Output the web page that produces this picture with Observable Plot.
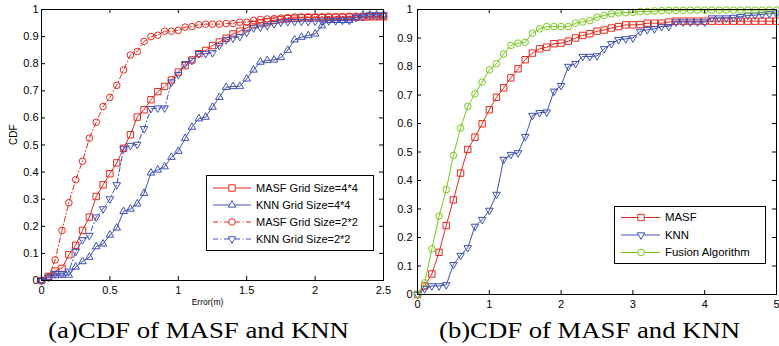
<!DOCTYPE html>
<html><head><meta charset="utf-8">
<script src="https://cdn.jsdelivr.net/npm/d3@7"></script>
<script src="https://cdn.jsdelivr.net/npm/@observablehq/plot@0.6"></script>
<style>
html,body{margin:0;padding:0;background:#fff;}
#root{position:relative;width:779px;height:346px;overflow:hidden;background:#fff;}
#root svg{position:absolute;top:0;}
</style></head><body><div id="root"></div>
<script>
// ---------- DATA ----------
// Panel (a): error (m)
const xA = [0,0.05,0.1,0.15,0.2,0.25,0.3,0.35,0.4,0.45,0.5,0.55,0.6,0.65,0.7,0.75,0.8,0.85,0.9,0.95,
  1,1.05,1.1,1.15,1.2,1.25,1.3,1.35,1.4,1.45,1.5,1.55,1.6,1.65,1.7,1.75,1.8,1.85,1.9,1.95,
  2,2.05,2.1,2.15,2.2,2.25,2.3,2.35,2.4,2.45,2.5];
const masf44 = [0,0.015,0.035,0.045,0.095,0.13,0.185,0.234,0.31,0.353,
  0.394,0.434,0.488,0.538,0.603,0.63,0.667,0.697,0.716,0.74,
  0.769,0.793,0.814,0.837,0.849,0.867,0.88,0.894,0.91,0.92,
  0.932,0.944,0.95,0.955,0.96,0.963,0.966,0.968,0.97,0.97,
  0.97,0.97,0.971,0.971,0.971,0.972,0.972,0.972,0.973,0.973,0.973];
const knn44 = [0,0.012,0.018,0.02,0.02,0.05,0.07,0.086,0.125,0.135,
  0.168,0.194,0.255,0.264,0.283,0.322,0.397,0.408,0.42,0.455,
  0.477,0.525,0.566,0.597,0.603,0.64,0.676,0.713,0.716,0.717,
  0.744,0.777,0.806,0.812,0.814,0.823,0.85,0.888,0.898,0.904,
  0.91,0.94,0.96,0.96,0.96,0.96,0.97,0.98,0.98,0.98,0.98];
const masf22 = [0,0.01,0.076,0.185,0.287,0.372,0.44,0.525,0.584,0.642,
  0.676,0.72,0.777,0.832,0.845,0.882,0.9,0.905,0.92,0.92,
  0.923,0.935,0.937,0.944,0.946,0.946,0.946,0.948,0.948,0.953,
  0.953,0.96,0.963,0.965,0.966,0.968,0.97,0.972,0.972,0.973,
  0.973,0.973,0.974,0.974,0.974,0.975,0.975,0.975,0.975,0.975,0.975];
const knn22 = [0,0.012,0.025,0.025,0.034,0.107,0.15,0.166,0.234,0.264,
  0.301,0.353,0.486,0.498,0.502,0.56,0.634,0.636,0.636,0.732,
  0.76,0.8,0.812,0.837,0.837,0.84,0.867,0.888,0.894,0.9,
  0.916,0.932,0.935,0.94,0.947,0.953,0.955,0.955,0.956,0.956,
  0.957,0.957,0.958,0.958,0.96,0.96,0.97,0.975,0.98,0.98,0.98];

// Panel (b): error (m)
const xB = [0,0.1,0.2,0.3,0.4,0.5,0.6,0.7,0.8,0.9,1,1.1,1.2,1.3,1.4,1.5,1.6,1.7,1.8,1.9,
  2,2.1,2.2,2.3,2.4,2.5,2.6,2.7,2.8,2.9,3,3.1,3.2,3.3,3.4,3.5,3.6,3.7,3.8,3.9,
  4,4.1,4.2,4.3,4.4,4.5,4.6,4.7,4.8,4.9,5];
const masfB = [0,0.03,0.072,0.148,0.242,0.332,0.426,0.509,0.552,0.599,
  0.648,0.692,0.725,0.76,0.792,0.824,0.847,0.862,0.868,0.88,
  0.882,0.889,0.9,0.909,0.915,0.924,0.928,0.935,0.94,0.946,
  0.946,0.947,0.952,0.952,0.952,0.956,0.959,0.959,0.959,0.959,
  0.959,0.959,0.959,0.959,0.959,0.959,0.959,0.959,0.959,0.959,0.959];
const knnB = [0,0.02,0.03,0.03,0.034,0.105,0.137,0.164,0.239,0.263,
  0.295,0.351,0.474,0.491,0.497,0.554,0.628,0.638,0.64,0.713,
  0.733,0.8,0.81,0.835,0.835,0.837,0.862,0.88,0.894,0.897,
  0.9,0.923,0.929,0.932,0.94,0.94,0.956,0.956,0.956,0.956,
  0.956,0.97,0.97,0.97,0.972,0.975,0.979,0.98,0.983,0.985,0.987];
const fusionB = [0,0.041,0.16,0.275,0.368,0.488,0.584,0.66,0.704,0.745,
  0.788,0.81,0.844,0.874,0.882,0.885,0.917,0.932,0.94,0.94,
  0.94,0.94,0.952,0.956,0.961,0.973,0.979,0.985,0.988,0.989,
  0.99,0.993,0.993,0.995,0.996,0.997,0.997,0.997,0.998,0.998,
  0.998,0.998,0.998,0.998,0.998,0.998,0.998,0.998,0.998,0.998,0.998];

const yTicks = [0,0.1,0.2,0.3,0.4,0.5,0.6,0.7,0.8,0.9,1];
const xTicksA = [0,0.5,1,1.5,2,2.5];
const xTicksB = [0,1,2,3,4,5];
const namesA = ["MASF Grid Size=4*4","KNN Grid Size=4*4","MASF Grid Size=2*2","KNN Grid Size=2*2"];
const namesB = ["MASF","KNN","Fusion Algorithm"];
const captions = ["(a)CDF of MASF and KNN","(b)CDF of MASF and KNN"];
const yLabelA = "CDF";
const xLabelA = "Error(m)";

// ---------- STYLES ----------
const RED = "#e3281f", BLUE = "#3f50b5", GREEN = "#79c81e";
const DASHDOT = "5,2.5,1,2.5";
const triangleDown = {draw(ctx, size){
  const y = Math.sqrt(size / (Math.sqrt(3) * 3));
  ctx.moveTo(0, 2 * y); ctx.lineTo(Math.sqrt(3) * y, -y); ctx.lineTo(-Math.sqrt(3) * y, -y); ctx.closePath();
}};
const SYM = {
  square: {plot: "square", d3: d3.symbolSquare, r: 3.6},
  up: {plot: "triangle", d3: d3.symbolTriangle, r: 2.8},
  circle: {plot: "circle", d3: d3.symbolCircle, r: 3.3},
  down: {plot: triangleDown, d3: triangleDown, r: 2.8}
};
const seriesA = [
  {name: namesA[0], x: xA, y: masf44, color: RED, sym: SYM.square, dash: null},
  {name: namesA[1], x: xA, y: knn44, color: BLUE, sym: SYM.up, dash: null},
  {name: namesA[2], x: xA, y: masf22, color: RED, sym: SYM.circle, dash: DASHDOT},
  {name: namesA[3], x: xA, y: knn22, color: BLUE, sym: SYM.down, dash: DASHDOT}
];
const seriesB = [
  {name: namesB[0], x: xB, y: masfB, color: RED, sym: SYM.square, dash: null},
  {name: namesB[1], x: xB, y: knnB, color: BLUE, sym: SYM.down, dash: null},
  {name: namesB[2], x: xB, y: fusionB, color: GREEN, sym: SYM.circle, dash: null}
];

function panel(cfg) {
  const {series, xDomain, xTicks, width, height, ml, mr, mt, mb, yPad, extra} = cfg;
  const ph = height - mt - mb, pw = width - ml - mr;
  const marks = [];
  for (const s of series) {
    const data = s.x.map((x, i) => ({x, y: s.y[i]}));
    marks.push(Plot.line(data, {x: "x", y: "y", stroke: s.color, strokeWidth: 1, strokeDasharray: s.dash || undefined}));
    marks.push(Plot.dot(data, {x: "x", y: "y", stroke: s.color, fill: "none", strokeWidth: 1, symbol: s.sym.plot, r: s.sym.r}));
  }
  marks.push(
    Plot.tickX(xTicks, {x: d => d, insetTop: ph - 4, stroke: "#000"}),
    Plot.tickX(xTicks, {x: d => d, insetBottom: ph - 4, stroke: "#000"}),
    Plot.tickY(yTicks, {y: d => d, insetRight: pw - 4, stroke: "#000"}),
    Plot.tickY(yTicks, {y: d => d, insetLeft: pw - 4, stroke: "#000"}),
    Plot.axisX({ticks: xTicks, tickSize: 0, tickPadding: 6, tickFormat: d => String(d), label: null, fontSize: 11}),
    Plot.axisY({ticks: yTicks, tickSize: 0, tickPadding: yPad, tickFormat: d => String(d), label: null, fontSize: 11}),
    Plot.frame({stroke: "#000", strokeWidth: 1}),
    ...(extra || [])
  );
  return Plot.plot({
    width, height, marginLeft: ml, marginRight: mr, marginTop: mt, marginBottom: mb,
    x: {domain: xDomain},
    y: {domain: [0, 1]},
    style: {fontFamily: "'Liberation Sans', Arial, sans-serif", fontSize: "11px", color: "#000", background: "transparent", overflow: "visible"},
    marks
  });
}

const root = document.getElementById("root");
const plotA = panel({series: seriesA, xDomain: [0, 2.5], xTicks: xTicksA, width: 390, height: 310,
  ml: 41, mr: 7, mt: 9, mb: 30, yPad: 3,
  extra: [
    Plot.text([yLabelA], {text: d => d, frameAnchor: "left", dx: -28, rotate: -90, fontSize: 10, lineAnchor: "middle"}),
    Plot.text([xLabelA], {text: d => d, frameAnchor: "bottom", dy: 22, dx: -5, fontSize: 8.5, lineAnchor: "middle"})
  ]});
plotA.style.left = "0px";
root.appendChild(plotA);
const plotB = panel({series: seriesB, xDomain: [0, 5], xTicks: xTicksB, width: 389, height: 310,
  ml: 27, mr: 3, mt: 9, mb: 16, yPad: 5});
plotB.style.left = "390px";
root.appendChild(plotB);

// ---------- overlay: legends and captions ----------
const ov = d3.select(root).append("svg").attr("width", 779).attr("height", 346)
  .style("left", "0px").style("pointer-events", "none")
  .attr("font-family", "'Liberation Sans', Arial, sans-serif");

function legend(series, box) {
  const g = ov.append("g");
  g.append("rect").attr("x", box.x + 0.5).attr("y", box.y + 0.5).attr("width", box.w).attr("height", box.h)
    .attr("fill", "#fff").attr("stroke", "#000").attr("stroke-width", 1);
  series.forEach((s, i) => {
    const cy = box.y + box.rows[i];
    g.append("line").attr("x1", box.x + box.l0).attr("x2", box.x + box.l1).attr("y1", cy).attr("y2", cy)
      .attr("stroke", s.color).attr("stroke-width", 1).attr("stroke-dasharray", s.dash || null);
    g.append("path").attr("d", d3.symbol(s.sym.d3, s.sym.r * s.sym.r * Math.PI)())
      .attr("transform", `translate(${box.x + box.m},${cy})`)
      .attr("fill", "#fff").attr("stroke", s.color).attr("stroke-width", 1);
    g.append("text").attr("x", box.x + box.t).attr("y", cy).attr("dy", "0.35em")
      .attr("font-size", box.fs).attr("fill", "#000").text(s.name);
  });
}
legend(seriesA, {x: 206, y: 175, w: 167, h: 75, rows: [13, 30, 47, 64], l0: 7, l1: 45, m: 26, t: 50, fs: 11});
legend(seriesB, {x: 614, y: 206, w: 151, h: 57, rows: [11.5, 29, 46.5], l0: 7, l1: 46, m: 27, t: 51, fs: 11.4});

const capX = [48, 439];
captions.forEach((c, i) => {
  ov.append("text").attr("x", capX[i]).attr("y", 338)
    .attr("font-family", "'Liberation Serif', 'Times New Roman', serif").attr("font-size", 24)
    .attr("textLength", 301).attr("lengthAdjust", "spacingAndGlyphs").attr("fill", "#000").text(c);
});
</script></body></html>
